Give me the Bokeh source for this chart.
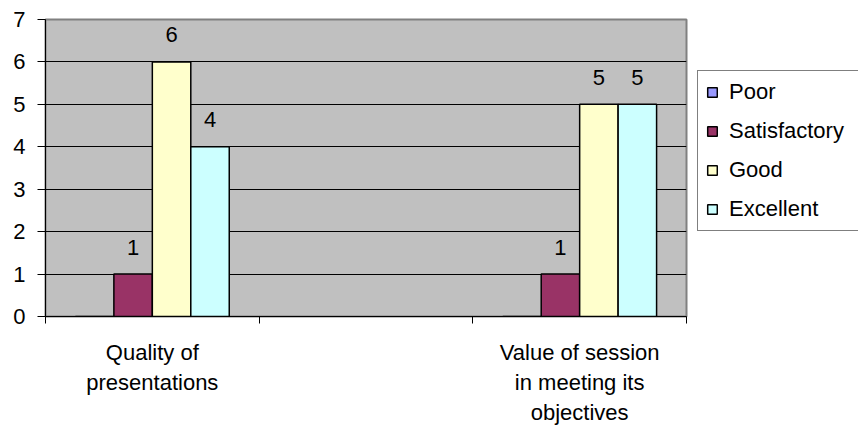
from bokeh.plotting import figure
from bokeh.layouts import row
from bokeh.models import (ColumnDataSource, Range1d, FixedTicker, Legend, LegendItem,
                          LinearAxis)
from bokeh.core.properties import value
from bokeh.embed import file_html
from bokeh.resources import INLINE

# ---- data ----
categories = ["Quality of\npresentations", "", "Value of session\nin meeting its\nobjectives"]
series_names = ["Poor", "Satisfactory", "Good", "Excellent"]
poor = [0, None, 0]
satisfactory = [1, None, 1]
good = [6, None, 5]
excellent = [4, None, 5]
y_ticks = [0, 1, 2, 3, 4, 5, 6, 7]

colors = ["#9999FF", "#993366", "#FFFFCC", "#CCFFFF"]
FONT = "Liberation Sans"

p = figure(width=697, height=427, output_backend="svg", toolbar_location=None,
           x_range=Range1d(0, len(categories)), y_range=Range1d(0, 7),
           min_border_left=45, min_border_right=11, min_border_top=19,
           min_border_bottom=110)
p.xaxis.visible = False
p.yaxis.visible = False
p.background_fill_color = "#C0C0C0"
p.border_fill_color = "white"
p.outline_line_color = "#808080"
p.outline_line_width = 2

# y axis
yaxis = LinearAxis(ticker=FixedTicker(ticks=y_ticks))
yaxis.axis_line_color = "black"
yaxis.major_tick_out = 8
yaxis.major_tick_in = 0
yaxis.minor_tick_line_color = None
yaxis.major_label_text_font = FONT
yaxis.major_label_text_font_size = "22px"
yaxis.major_label_text_color = "black"
yaxis.major_label_standoff = 12
p.add_layout(yaxis, "left")

# x axis: labels at category centres, tick marks at category boundaries
centers = [i + 0.5 for i in range(len(categories))]
bounds = [i for i in range(len(categories) + 1)]
label_map = {c: lab for c, lab in zip(centers, categories) if lab}
xaxis = LinearAxis(ticker=FixedTicker(ticks=[c for c, lab in zip(centers, categories) if lab],
                                      minor_ticks=bounds))
xaxis.major_label_overrides = label_map
xaxis.axis_line_color = "black"
xaxis.major_tick_out = 0
xaxis.major_tick_in = 0
xaxis.minor_tick_out = 7
xaxis.minor_tick_in = 0
xaxis.minor_tick_line_color = "black"
xaxis.major_label_text_font = FONT
xaxis.major_label_text_font_size = "22px"
xaxis.major_label_text_color = "black"
xaxis.major_label_standoff = 16
p.add_layout(xaxis, "below")

# grid
p.ygrid.ticker = FixedTicker(ticks=y_ticks)
p.ygrid.grid_line_color = "black"
p.ygrid.grid_line_width = 1
p.xgrid.grid_line_color = None

# legend panel (separate figure to the right of the plot)
pl = figure(width=161, height=427, output_backend="svg", toolbar_location=None,
            x_range=Range1d(0, 1), y_range=Range1d(0, 1), min_border=0)
pl.xaxis.visible = False
pl.yaxis.visible = False
pl.xgrid.visible = False
pl.ygrid.visible = False
pl.outline_line_color = None
pl.background_fill_color = "white"
pl.border_fill_color = "white"

# bars
bar_w = 0.18
all_series = [poor, satisfactory, good, excellent]
items = []
for k, (name, vals, col) in enumerate(zip(series_names, all_series, colors)):
    off = (k - 1.5) * bar_w
    xs = [c + off for c, v in zip(centers, vals) if v is not None]
    tops = [v for v in vals if v is not None]
    src = ColumnDataSource(dict(x=xs, top=tops))
    p.vbar(x="x", top="top", bottom=0, width=bar_w, source=src,
           fill_color=col, line_color="black", line_width=1.5)
    # twin renderer (hidden) in the legend panel, used only for the legend swatch
    r = pl.vbar(x="x", top="top", bottom=0, width=bar_w, source=src,
                fill_color=col, line_color="black", line_width=1.5, visible=False)
    items.append(LegendItem(label=name, renderers=[r]))
    lx = [x for x, t in zip(xs, tops) if t]
    lt = [t for t in tops if t]
    lsrc = ColumnDataSource(dict(x=lx, y=lt, t=[str(t) for t in lt]))
    p.text(x="x", y="y", text="t", source=lsrc, text_align="center",
           text_baseline="alphabetic", y_offset=-27,
           text_font=value(FONT), text_font_size="22px", text_color="black")

legend = Legend(items=items, location=(0, 85))
legend.border_line_color = "black"
legend.border_line_width = 1
legend.background_fill_color = "white"
legend.background_fill_alpha = 1
legend.label_text_font = FONT
legend.label_text_font_size = "22px"
legend.label_text_color = "black"
legend.glyph_width = 12
legend.glyph_height = 12
legend.label_height = 24
legend.label_width = 124
legend.label_standoff = 11
legend.spacing = 13
legend.padding = 8
legend.margin = 0
pl.add_layout(legend, "center")

layout = row(p, pl, spacing=0)
open("out.html", "w").write(file_html(layout, INLINE))
